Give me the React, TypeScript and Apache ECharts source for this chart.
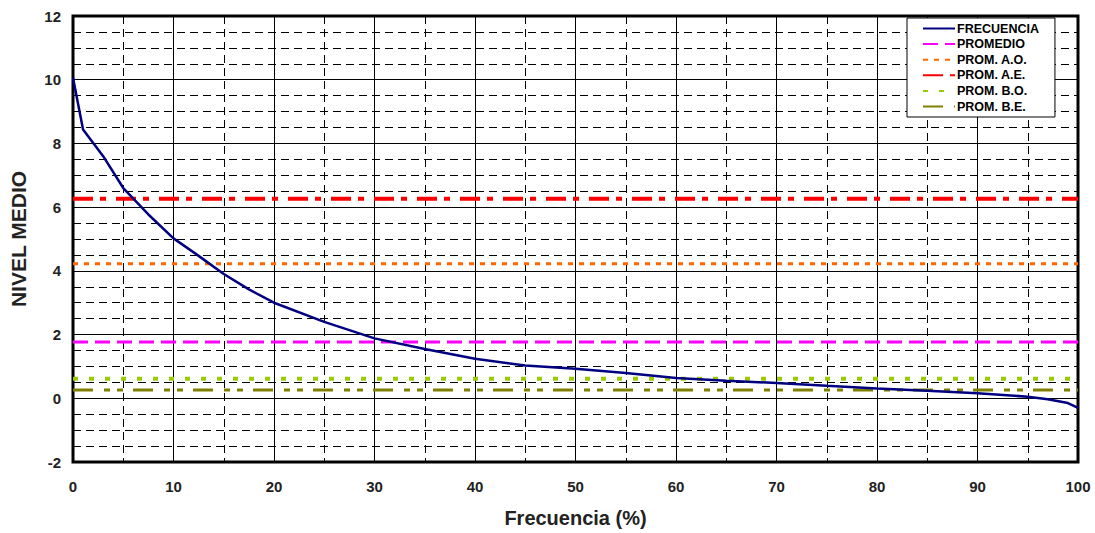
import React, { useEffect, useRef } from "react";
import * as echarts from "echarts";

const freqX = [0, 1, 3, 5, 7.5, 10, 12.5, 15, 17.5, 20, 25, 30, 35, 40, 45, 50, 55, 60, 65, 70, 75, 80, 85, 90, 95, 97, 99, 100];
const freqY = [10.06, 8.44, 7.6, 6.6, 5.77, 5.02, 4.47, 3.9, 3.42, 3.0, 2.4, 1.88, 1.55, 1.24, 1.03, 0.93, 0.79, 0.64, 0.55, 0.48, 0.39, 0.31, 0.24, 0.16, 0.05, -0.03, -0.15, -0.3];

const levelNames = ["PROMEDIO", "PROM. A.O.", "PROM. A.E.", "PROM. B.O.", "PROM. B.E."];
const levelValues = [1.77, 4.22, 6.26, 0.61, 0.26];
const levelColors = ["#FF00FF", "#FF6600", "#FF0000", "#99CC00", "#808000"];
const levelDash: number[][] = [[15, 7], [5, 6], [20, 7, 6, 10], [5, 11], [20, 11, 6, 7, 6, 10]];
const levelWidths = [3, 3, 4, 4, 3];

const xRange = [0, 100];

const FONT = "'Liberation Sans', Arial, sans-serif";

export default function App() {
  const ref = useRef<HTMLDivElement>(null);
  useEffect(() => {
    document.body.style.margin = "0";
    const chart = echarts.init(ref.current!, null, { renderer: "svg", width: 1095, height: 533 });
    const series: any[] = [
      {
        name: "FRECUENCIA",
        type: "line",
        data: freqX.map((x, i) => [x, freqY[i]]),
        symbol: "none",
        lineStyle: { color: "#000080", width: 2.5 },
        itemStyle: { color: "#000080" },
        z: 5,
      },
      ...levelNames.map((n, i) => ({
        name: n,
        type: "line",
        data: xRange.map((x) => [x, levelValues[i]]),
        symbol: "none",
        lineStyle: { color: levelColors[i], width: levelWidths[i], type: levelDash[i] },
        itemStyle: { color: levelColors[i] },
        z: 4,
      })),
    ];
    chart.setOption({
      animation: false,
      backgroundColor: "#fff",
      grid: {
        left: 71,
        right: 17,
        top: 16,
        bottom: 65,
        show: true,
        borderColor: "#000",
        borderWidth: 3,
        backgroundColor: "transparent",
      },
      legend: {
        orient: "vertical",
        left: 907,
        top: 18,
        padding: [4, 16, 4, 15],
        itemWidth: 32,
        itemHeight: 13,
        itemGap: 2.6,
        borderColor: "#000",
        borderWidth: 1,
        backgroundColor: "#fff",
        itemStyle: { opacity: 0 },
        textStyle: { fontFamily: FONT, fontWeight: "bold", fontSize: 12.5, color: "#000", padding: [0, 0, 0, -3] },
        data: ["FRECUENCIA", ...levelNames],
      },
      xAxis: {
        type: "value",
        min: 0,
        max: 100,
        interval: 10,
        name: "Frecuencia (%)",
        nameLocation: "middle",
        nameGap: 46,
        nameTextStyle: { fontFamily: FONT, fontWeight: "bold", fontSize: 20, color: "#222" },
        axisLine: { show: false },
        axisTick: { show: false },
        axisLabel: { fontFamily: FONT, fontWeight: "bold", fontSize: 15, color: "#222", margin: 17 },
        splitLine: { show: true, lineStyle: { color: "#000", width: 1 } },
        minorTick: { show: false, splitNumber: 2 },
        minorSplitLine: { show: true, lineStyle: { color: "#000", width: 1, type: [8, 5] } },
      },
      yAxis: {
        type: "value",
        min: -2,
        max: 12,
        interval: 2,
        name: "NIVEL MEDIO",
        nameLocation: "middle",
        nameGap: 44,
        nameTextStyle: { fontFamily: FONT, fontWeight: "bold", fontSize: 21, color: "#222" },
        axisLine: { show: false },
        axisTick: { show: false },
        axisLabel: { fontFamily: FONT, fontWeight: "bold", fontSize: 15, color: "#222", margin: 12 },
        splitLine: { show: true, lineStyle: { color: "#000", width: 1 } },
        minorTick: { show: false, splitNumber: 4 },
        minorSplitLine: { show: true, lineStyle: { color: "#000", width: 1, type: [8, 5] } },
      },
      series,
    });
    return () => chart.dispose();
  }, []);
  return <div ref={ref} style={{ width: 1095, height: 533 }} />;
}
